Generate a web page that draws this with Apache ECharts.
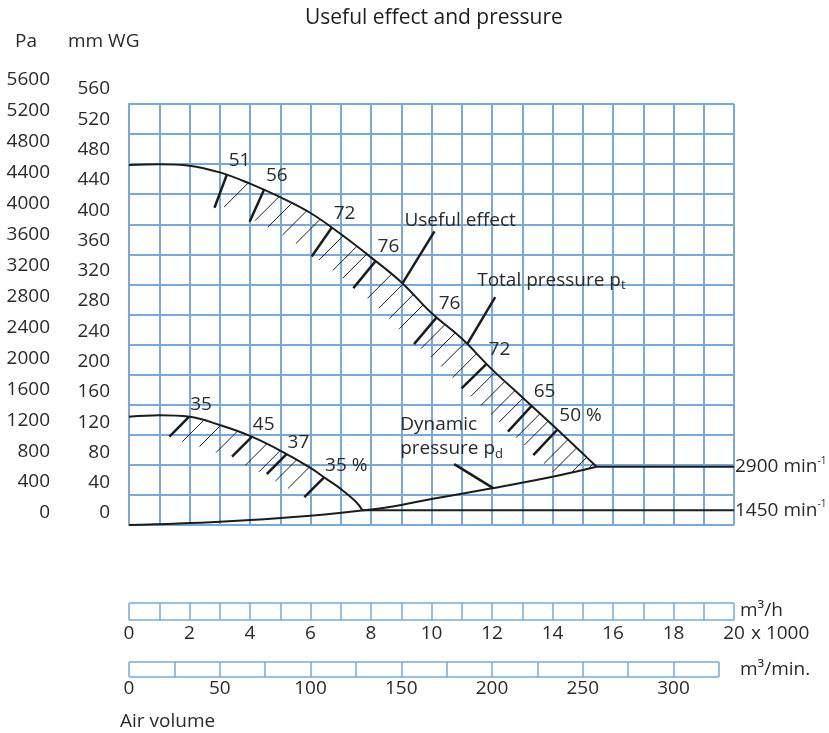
<!DOCTYPE html>
<html>
<head>
<meta charset="utf-8">
<script src="https://cdn.jsdelivr.net/npm/echarts@6/dist/echarts.min.js"></script>
<style>html,body{margin:0;padding:0;background:#fff}#c{width:829px;height:733px}</style>
</head>
<body>
<div id="c"></div>
<script>
// ---------------- DATA ----------------
const titleText = 'Useful effect and pressure';

// axis ranges / tick labels
const paMax = 5600, paStep = 400;          // Pa scale
const mmMax = 560, mmStep = 40;            // mm WG scale
const flowMax = 20, flowStep = 1, flowLabelStep = 2;      // x1000 m3/h
const minMax = 325, minStep = 25, minLabelStep = 50;      // m3/min

// total pressure curve, 2900 min-1 (x: 1000 m3/h, y: mm WG)
const totalX = [0, 1, 2, 3, 4, 5, 6, 7, 8, 9, 10, 11, 12, 13, 14, 15, 15.46];
const totalY = [479, 480, 478, 469, 454, 436, 415, 387, 356, 323, 282, 248, 207, 170, 133, 95, 77.5];

// total pressure curve, 1450 min-1
const lowX = [0, 1, 2, 3, 4, 5, 6, 6.5, 7, 7.5, 7.72];
const lowY = [144, 146, 144, 133, 118.5, 99, 76, 62, 48, 31, 19.5];

// dynamic pressure curve
const dynX = [0, 3, 6, 8, 9, 10, 12, 14, 15.46];
const dynY = [0, 4.4, 12.4, 20.5, 26.6, 34.6, 48.8, 64.2, 77.5];

// speed lines
const rpmHighX = [15.46, 20], rpmHighY = [77.5, 77.5];
const rpmLowX = [7.72, 20], rpmLowY = [19.5, 19.5];
const rpmHighLabel = '2900', rpmLowLabel = '1450';

// efficiency marks (useful effect %)
const upperMarkX = [3.23, 4.46, 6.70, 8.15, 10.17, 11.82, 13.31, 14.16];
const upperMarkLabels = ['51', '56', '72', '76', '76', '72', '65', '50 %'];
const upperHatchX = [3.94, 4.96, 5.38, 5.87, 6.31, 7.08, 7.53, 7.86, 8.68, 9.06, 9.4, 9.73, 10.45, 10.78, 11.12, 11.49, 12.1, 12.43, 12.76, 13.03, 13.59, 13.86, 14.51, 14.8, 15.13, 15.35];

const lowerMarkX = [1.99, 4.06, 5.21, 6.45];
const lowerMarkLabels = ['35', '45', '37', '35 %'];
const lowerHatchX = [2.46, 3.03, 3.58, 4.55, 5.0, 5.54, 5.96];

// annotations (anchor on curve)
const annotCurve = ['total', 'total', 'dyn'];
const annotX = [9.04, 11.18, 12.04];
const annotText = ['{t|Useful effect}', '{t|Total pressure p}{s|t}', '{t|Dynamic}\n{t|pressure p}{s|d}'];

// ---------------- STYLE ----------------
const FONT = '"Open Sans", "Noto Sans", "DejaVu Sans", sans-serif';
const TXT = '#2a2a2a';
const INK = '#1c1c1c';
const BLUE = '#76aadd';
const FS = 19;
const annotStyle = [
  { pointer: [32, -52], text: [2, -63] },
  { pointer: [28, -47], text: [10, -64] },
  { pointer: [-39, -24], text: [-93, -51] }
];

// ---------------- HELPERS ----------------
function interp(xs, ys, x) {
  if (x <= xs[0]) return ys[0];
  for (let i = 0; i < xs.length - 1; i++) {
    if (x >= xs[i] && x <= xs[i + 1]) {
      const t = (x - xs[i]) / (xs[i + 1] - xs[i]);
      return ys[i] + t * (ys[i + 1] - ys[i]);
    }
  }
  return ys[ys.length - 1];
}
function pairs(xs, ys) { return xs.map((x, i) => [x, ys[i]]); }
const curves = { total: [totalX, totalY], low: [lowX, lowY], dyn: [dynX, dynY] };

function clipToDyn(p, e, api) {
  const pts = dynX.map((x, i) => api.coord([x, dynY[i]]));
  let best = 1;
  for (let i = 0; i < pts.length - 1; i++) {
    const a = pts[i], b = pts[i + 1];
    const rx = e[0] - p[0], ry = e[1] - p[1];
    const sx = b[0] - a[0], sy = b[1] - a[1];
    const den = rx * sy - ry * sx;
    if (Math.abs(den) < 1e-9) continue;
    const t = ((a[0] - p[0]) * sy - (a[1] - p[1]) * sx) / den;
    const u = ((a[0] - p[0]) * ry - (a[1] - p[1]) * rx) / den;
    if (t >= 0 && t <= 1 && u >= 0 && u <= 1 && t < best) best = t;
  }
  return [p[0] + (e[0] - p[0]) * best, p[1] + (e[1] - p[1]) * best];
}

function hatchSeries(curveKey, markX, markLabels, hatchX, st) {
  const [cx, cy] = curves[curveKey];
  const data = [];
  hatchX.forEach(x => data.push([x, interp(cx, cy, x), 0, -1]));
  markX.forEach((x, i) => data.push([x, interp(cx, cy, x), 1, i]));
  return {
    type: 'custom', xAxisIndex: 0, yAxisIndex: 0, data, encode: { x: 0, y: 1 },
    z: 3, silent: true, clip: false,
    renderItem(params, api) {
      const x = api.value(0), y = api.value(1), kind = api.value(2), idx = api.value(3);
      const p = api.coord([x, y]);
      let dir = [-Math.SQRT1_2, Math.SQRT1_2];
      if (kind === 1 && st.markNormal) {
        const a = api.coord([x - 0.15, interp(cx, cy, x - 0.15)]);
        const b = api.coord([x + 0.15, interp(cx, cy, x + 0.15)]);
        let tx = b[0] - a[0], ty = b[1] - a[1];
        const l = Math.hypot(tx, ty); tx /= l; ty /= l;
        dir = [-ty, tx];
      }
      const len = kind === 1 ? st.markLen : st.hatchLen;
      let e = [p[0] + dir[0] * len, p[1] + dir[1] * len];
      e = clipToDyn(p, e, api);
      const children = [{
        type: 'line', shape: { x1: p[0], y1: p[1], x2: e[0], y2: e[1] },
        style: { stroke: INK, lineWidth: kind === 1 ? st.markWidth : st.hatchWidth }
      }];
      if (kind === 1) {
        children.push({
          type: 'text', x: p[0] + st.labelDx, y: p[1] + st.labelDy,
          style: { text: markLabels[idx], fill: TXT, font: FS + 'px ' + FONT, align: 'left', verticalAlign: 'middle' }
        });
      }
      return { type: 'group', children };
    }
  };
}

const annotData = annotX.map((x, i) => {
  const [cx, cy] = curves[annotCurve[i]];
  return [x, interp(cx, cy, x), i];
});

const annotSeries = {
  type: 'custom', xAxisIndex: 0, yAxisIndex: 0, data: annotData, encode: { x: 0, y: 1 },
  z: 5, silent: true, clip: false,
  renderItem(params, api) {
    const i = api.value(2);
    const p = api.coord([api.value(0), api.value(1)]);
    const s = annotStyle[i];
    return {
      type: 'group', children: [
        { type: 'line', shape: { x1: p[0], y1: p[1], x2: p[0] + s.pointer[0], y2: p[1] + s.pointer[1] },
          style: { stroke: INK, lineWidth: 2.5 } },
        { type: 'text', x: p[0] + s.text[0], y: p[1] + s.text[1],
          style: {
            text: annotText[i], align: 'left', verticalAlign: 'middle', fill: TXT,
            rich: {
              t: { fontSize: FS, fontFamily: FONT, lineHeight: 24, fill: TXT },
              s: { fontSize: 13, fontFamily: FONT, lineHeight: 13, verticalAlign: 'bottom', fill: TXT }
            }
          } }
      ]
    };
  }
};

const rpmLabelRich = {
  n: { fontSize: FS, fontFamily: FONT, color: TXT, lineHeight: 22 },
  s: { fontSize: 10, fontFamily: FONT, color: TXT, lineHeight: 12, verticalAlign: 'top' }
};

const lineBase = { type: 'line', xAxisIndex: 0, yAxisIndex: 0, symbol: 'none', z: 4, silent: true,
  lineStyle: { color: INK, width: 2 } };

const hiddenX = (g) => ({ gridIndex: g, type: 'value', min: 0, max: 1, show: false });

const option = {
  animation: false,
  backgroundColor: '#ffffff',
  title: { text: titleText, left: 300, top: 3,
    textStyle: { fontSize: 21, fontWeight: 'normal', color: '#1e1e1e', fontFamily: FONT } },
  grid: [
    { left: 129, top: 104, width: 605, height: 421 },   // main chart
    { left: 56, top: 80, width: 1, height: 433 },       // Pa labels
    { left: 116, top: 89, width: 1, height: 424 },      // mm WG labels
    { left: 129, top: 603, width: 605, height: 17 },    // m3/h bar
    { left: 129, top: 662, width: 589.9, height: 15 }   // m3/min bar
  ],
  xAxis: [
    { gridIndex: 0, type: 'value', min: 0, max: flowMax, interval: flowStep,
      axisLine: { show: false }, axisTick: { show: false }, axisLabel: { show: false },
      splitLine: { show: true, lineStyle: { color: BLUE, width: 2 } } },
    hiddenX(1), hiddenX(2),
    { gridIndex: 3, type: 'value', min: 0, max: flowMax, interval: flowStep,
      axisLine: { show: false }, axisTick: { show: false },
      axisLabel: { margin: 4, fontSize: FS, color: TXT, fontFamily: FONT,
        formatter: v => (v % flowLabelStep === 0 ? String(v) : '') },
      splitLine: { show: true, lineStyle: { color: BLUE, width: 1.5 } } },
    { gridIndex: 4, type: 'value', min: 0, max: minMax, interval: minStep,
      axisLine: { show: false }, axisTick: { show: false },
      axisLabel: { margin: 2, fontSize: FS, color: TXT, fontFamily: FONT,
        formatter: v => (v % minLabelStep === 0 ? String(v) : '') },
      splitLine: { show: true, lineStyle: { color: BLUE, width: 1.5 } } }
  ],
  yAxis: [
    { gridIndex: 0, type: 'value', min: 0, max: mmMax, interval: mmStep, offset: 60,
      axisLine: { show: true, lineStyle: { color: BLUE, width: 2 } }, axisTick: { show: false },
      axisLabel: { show: false },
      splitLine: { show: true, lineStyle: { color: BLUE, width: 2 } } },
    { gridIndex: 1, type: 'value', min: 0, max: paMax, interval: paStep,
      axisLine: { show: false }, axisTick: { show: false }, splitLine: { show: false },
      axisLabel: { margin: 6, fontSize: FS, color: TXT, fontFamily: FONT, formatter: v => String(v) } },
    { gridIndex: 2, type: 'value', min: 0, max: mmMax, interval: mmStep,
      axisLine: { show: false }, axisTick: { show: false }, splitLine: { show: false },
      axisLabel: { margin: 6, fontSize: FS, color: TXT, fontFamily: FONT, formatter: v => String(v) } },
    { gridIndex: 3, type: 'value', min: 0, max: 1, interval: 1,
      axisLine: { show: false }, axisTick: { show: false }, axisLabel: { show: false },
      splitLine: { show: true, lineStyle: { color: BLUE, width: 1.5 } } },
    { gridIndex: 4, type: 'value', min: 0, max: 1, interval: 1,
      axisLine: { show: false }, axisTick: { show: false }, axisLabel: { show: false },
      splitLine: { show: true, lineStyle: { color: BLUE, width: 1.5 } } }
  ],
  series: [
    Object.assign({}, lineBase, { data: pairs(totalX, totalY), smooth: 0.4 }),
    Object.assign({}, lineBase, { data: pairs(lowX, lowY), smooth: 0.4 }),
    Object.assign({}, lineBase, { data: pairs(dynX, dynY), smooth: 0.4 }),
    Object.assign({}, lineBase, { data: pairs(rpmHighX, rpmHighY),
      endLabel: { show: true, distance: 1, formatter: '{n|' + rpmHighLabel + ' min}{s|-1}', rich: rpmLabelRich } }),
    Object.assign({}, lineBase, { data: pairs(rpmLowX, rpmLowY),
      endLabel: { show: true, distance: 1, formatter: '{n|' + rpmLowLabel + ' min}{s|-1}', rich: rpmLabelRich } }),
    hatchSeries('total', upperMarkX, upperMarkLabels, upperHatchX,
      { markNormal: true, markLen: 35, hatchLen: 34, markWidth: 2.5, hatchWidth: 1, labelDx: 2, labelDy: -14 }),
    hatchSeries('low', lowerMarkX, lowerMarkLabels, lowerHatchX,
      { markNormal: false, markLen: 28, hatchLen: 30, markWidth: 2.5, hatchWidth: 1, labelDx: 1, labelDy: -12 }),
    annotSeries
  ],
  graphic: [
    { type: 'text', x: 15, y: 42, style: { text: 'Pa', fill: TXT, font: FS + 'px ' + FONT, verticalAlign: 'middle' } },
    { type: 'text', x: 68, y: 42, style: { text: 'mm WG', fill: TXT, font: FS + 'px ' + FONT, verticalAlign: 'middle' } },
    { type: 'text', x: 740, y: 611, style: { text: 'm³/h', fill: TXT, font: FS + 'px ' + FONT, verticalAlign: 'middle' } },
    { type: 'text', x: 751, y: 634, style: { text: 'x 1000', fill: TXT, font: FS + 'px ' + FONT, verticalAlign: 'middle' } },
    { type: 'text', x: 740, y: 670, style: { text: 'm³/min.', fill: TXT, font: FS + 'px ' + FONT, verticalAlign: 'middle' } },
    { type: 'text', x: 120, y: 722, style: { text: 'Air volume', fill: TXT, font: FS + 'px ' + FONT, verticalAlign: 'middle' } }
  ]
};

const chart = echarts.init(document.getElementById('c'));
chart.setOption(option);
</script>
</body>
</html>
